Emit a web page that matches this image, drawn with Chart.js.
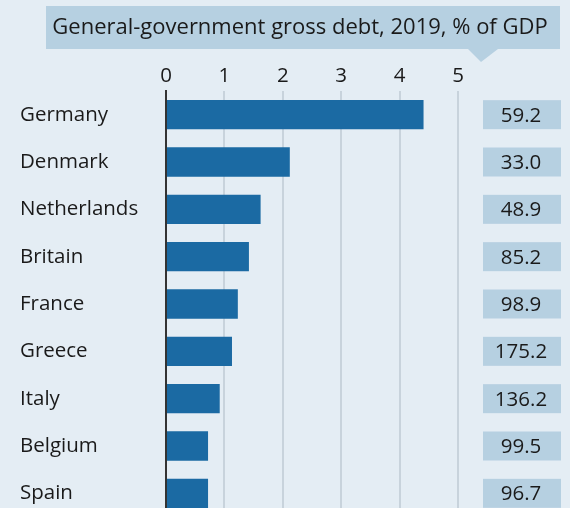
<!DOCTYPE html>
<html>
<head>
<meta charset="utf-8">
<script src="https://cdn.jsdelivr.net/npm/chart.js@4"></script>
<style>
  html, body { margin: 0; padding: 0; background: #e4edf4; overflow: hidden; }
  canvas { display: block; }
</style>
</head>
<body>
<canvas id="debtchart" width="570" height="517"></canvas>
<script>
// Data
var countries = ['Germany', 'Denmark', 'Netherlands', 'Britain', 'France', 'Greece', 'Italy', 'Belgium', 'Spain'];
var barValues = [4.41, 2.12, 1.62, 1.42, 1.23, 1.13, 0.92, 0.72, 0.72];
var debtLabels = ['59.2', '33.0', '48.9', '85.2', '98.9', '175.2', '136.2', '99.5', '96.7'];
var xTicks = [0, 1, 2, 3, 4, 5];
var titleText = 'General-government gross debt, 2019, % of GDP';

var FONT = 'Open Sans';
var BG = '#e4edf4';
var BOX = '#b6d0e1';

// background, title box and the debt boxes on the right
var decor = {
    id: 'decor',
    beforeDraw: function (chart) {
        var c = chart.ctx;
        c.save();
        c.fillStyle = BG;
        c.fillRect(0, 0, chart.width, chart.height);
        c.restore();
    },
    afterDraw: function (chart) {
        var c = chart.ctx;
        var y = chart.scales.y;
        c.save();
        // title box with little pointer
        c.fillStyle = BOX;
        c.fillRect(46, 6, 514, 43);
        c.beginPath();
        c.moveTo(468, 49);
        c.lineTo(498, 49);
        c.lineTo(481, 62);
        c.closePath();
        c.fill();
        c.fillStyle = '#1a1a1a';
        c.font = '22px "' + FONT + '"';
        c.textAlign = 'center';
        c.textBaseline = 'middle';
        c.fillText(titleText, 300, 28);
        // right-hand value boxes
        c.font = '20.5px "' + FONT + '"';
        debtLabels.forEach(function (lab, i) {
            var cy = y.getPixelForValue(i);
            c.fillStyle = BOX;
            c.fillRect(483, cy - 14.5, 78, 29);
            c.fillStyle = '#1a1a1a';
            c.fillText(lab, 521, cy + 1);
        });
        c.restore();
    }
};

var ctx = document.getElementById('debtchart').getContext('2d');
var debtchart = new Chart(ctx, {
    type: 'bar',
    data: {
        labels: countries,
        datasets: [{
            data: barValues,
            backgroundColor: '#1b6aa3',
            borderWidth: 0,
            categoryPercentage: 1,
            barPercentage: 0.62
        }]
    },
    options: {
        indexAxis: 'y',
        responsive: false,
        animation: false,
        layout: { padding: { left: 20, right: 112, top: 60, bottom: 0 } },
        scales: {
            x: {
                position: 'top',
                min: 0,
                max: 5,
                afterBuildTicks: function (s) { s.ticks = xTicks.map(function (v) { return { value: v }; }); },
                afterFit: function (s) { s.height = 31; },
                grid: {
                    color: function (c) { return c.tick && c.tick.value === 0 ? 'rgba(0,0,0,0)' : '#c8d3dc'; },
                    lineWidth: 2,
                    drawTicks: false
                },
                border: { display: false },
                ticks: {
                    color: '#1a1a1a',
                    padding: 3,
                    font: { family: FONT, size: 20.5 }
                }
            },
            y: {
                afterFit: function (s) { s.width = 146; s.paddingTop = 0; s.paddingBottom = 0; },
                grid: { display: false, drawTicks: false },
                border: { display: true, color: '#333333', width: 2 },
                ticks: {
                    crossAlign: 'far',
                    color: '#1a1a1a',
                    font: { family: FONT, size: 20.5 }
                }
            }
        },
        plugins: {
            legend: { display: false },
            tooltip: { enabled: false }
        }
    },
    plugins: [decor]
});
</script>
</body>
</html>
